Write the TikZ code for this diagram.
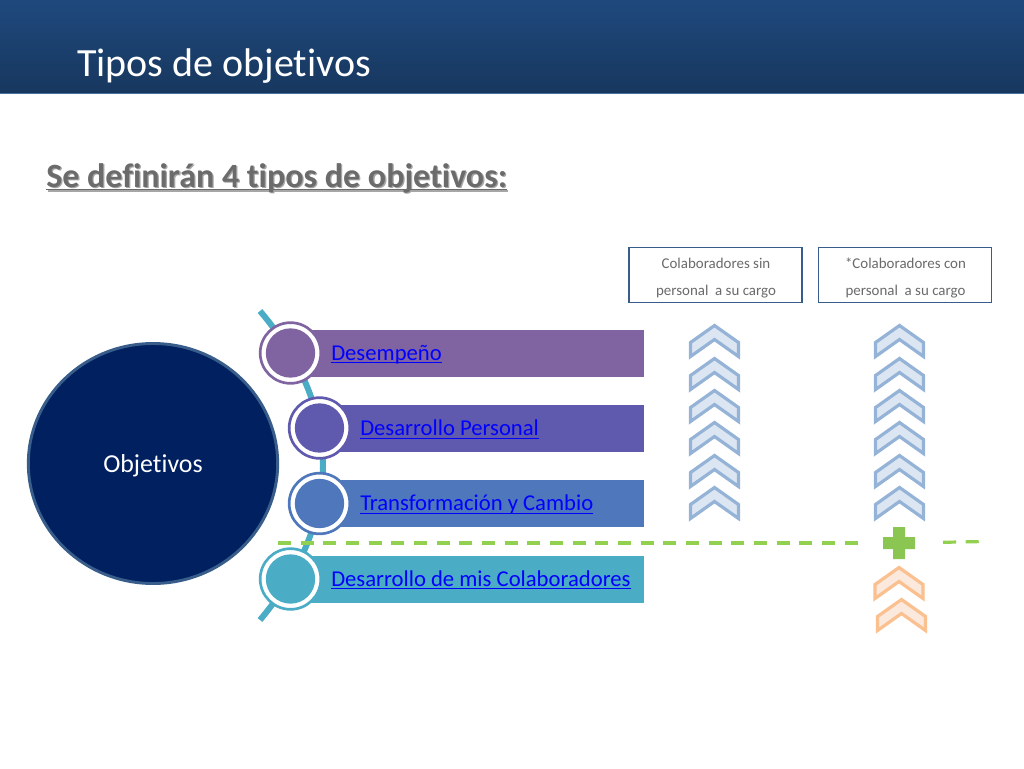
\documentclass[tikz,border=0pt]{standalone}
\usepackage{fontspec}
\setmainfont[Ligatures=CommonOff]{Carlito}
\usetikzlibrary{calc,shapes.geometric}
\definecolor{hdrtop}{HTML}{1F497D}
\definecolor{hdrbot}{HTML}{17375E}
\definecolor{hdrline}{HTML}{4A6F9C}
\definecolor{navy}{HTML}{002060}
\definecolor{navyline}{HTML}{385D8A}
\definecolor{cPurple}{HTML}{8064A2}
\definecolor{cIndigo}{HTML}{5F5AAD}
\definecolor{cBlue}{HTML}{4F78BC}
\definecolor{cTeal}{HTML}{4BACC6}
\definecolor{cGreen}{HTML}{92D050}
\definecolor{cPlus}{HTML}{8CC652}
\definecolor{chevB}{HTML}{95B3D7}
\definecolor{chevBf}{HTML}{DCE6F2}
\definecolor{chevO}{HTML}{FAC090}
\definecolor{chevOf}{HTML}{FBE9DD}
\definecolor{greytxt}{HTML}{6B6B6B}
\definecolor{boxtxt}{HTML}{6A6A6A}
\newsavebox\ulbox
\newcommand\myul[3]{\sbox\ulbox{#3}\rlap{\rule[-#1]{\wd\ulbox}{#2}}\usebox\ulbox}
\tikzset{
  px/.style={x=0.75pt,y=-0.75pt},
  bar/.style={fill=#1,draw=none},
  bubble/.style={circle,fill=white,draw=#1,line width=2pt,minimum size=45.5pt,inner sep=0pt},
  bubcore/.style={circle,fill=#1,draw=none,minimum size=37pt,inner sep=0pt},
  linktxt/.style={anchor=base west,inner sep=0pt,text=blue,font=\fontsize{17}{20}\selectfont},
  headbox/.style={draw=navyline,line width=1.1pt,fill=white,minimum width=129.5pt,minimum height=41.5pt,inner sep=0pt},
  boxtext/.style={anchor=base,inner sep=0pt,text=boxtxt,font=\fontsize{11.2}{13}\selectfont},
  chev/.style={line width=2.4pt,miter limit=10,line join=miter},
  chevblue/.style={chev,draw=chevB,fill=chevBf},
  chevorange/.style={chev,draw=chevO,fill=chevOf},
  gdash/.style={draw=cGreen,line width=2.4pt,dash pattern=on 9.8pt off 7.2pt}
}
\newcommand\chevron[3]{% centre x, tip y, style
  \path[#3] (#1,#2+1.5) -- ++(24,17) -- ++(0,14) -- ++(-24,-17) -- ++(-24,17) -- ++(0,-14) -- cycle;}
\begin{document}
\begin{tikzpicture}[px]
\useasboundingbox (0,0) rectangle (1024,768);
% header
\shade[top color=hdrtop,bottom color=hdrbot] (0,0) rectangle (1024,93);
\fill[hdrline] (0,93) rectangle (1024,94);
\node[anchor=base west,inner sep=0pt,text=white,font=\fontsize{30}{36}\selectfont] (title) at (77,76) {Tipos de objetivos};
% subtitle
\node[anchor=base west,inner sep=0pt,text=black!35,font=\fontsize{25.5}{30}\selectfont\bfseries] (subshadow) at (47.3,188.5) {\myul{2.6pt}{1.3pt}{Se definirán 4 tipos de objetivos:}};
\node[anchor=base west,inner sep=0pt,text=greytxt,font=\fontsize{25.5}{30}\selectfont\bfseries] (subtitle) at (46,187) {\myul{2.6pt}{1.3pt}{Se definirán 4 tipos de objetivos:}};
% arc
\coordinate (arcA) at (260,311);
\coordinate (arcB) at (260,620);
\draw[cTeal,line width=4.5pt] (arcA) .. controls (344,410) and (344,520) .. (arcB);
% bars
\fill[bar=cPurple] (300,329.5) rectangle (643.5,376.5);
\fill[bar=cIndigo] (330,405) rectangle (643.5,452);
\fill[bar=cBlue] (330,480) rectangle (643.5,527);
\fill[bar=cTeal] (300,555.5) rectangle (643.5,602.5);
% bubbles
\node[bubble=cPurple] (b1) at (290.5,353) {};
\node[bubcore=cPurple] (c1) at (b1) {};
\node[bubble=cIndigo] (b2) at (319.5,428) {};
\node[bubcore=cIndigo] (c2) at (b2) {};
\node[bubble=cBlue] (b3) at (319.5,503.5) {};
\node[bubcore=cBlue] (c3) at (b3) {};
\node[bubble=cTeal] (b4) at (290.5,579) {};
\node[bubcore=cTeal] (c4) at (b4) {};
% link labels
\node[linktxt] (l1) at (331,360) {\myul{2.4pt}{0.9pt}{Desempeño}};
\node[linktxt] (l2) at (360,435.5) {\myul{2.4pt}{0.9pt}{Desarrollo Personal}};
\node[linktxt] (l3) at (360,510.5) {\myul{2.4pt}{0.9pt}{Transformación y Cambio}};
\node[linktxt] (l4) at (331,586) {\myul{2.4pt}{0.9pt}{Desarrollo de mis Colaboradores}};
% big circle
\node[ellipse,fill=navy,draw=navyline,line width=2.2pt,minimum width=187pt,minimum height=180pt,inner sep=0pt] (obj) at (153,463.5) {};
\node[anchor=base,inner sep=0pt,text=white,font=\fontsize{19.4}{23}\selectfont] (objt) at (153,472) {Objetivos};
% boxes
\node[headbox] (h1) at (715.5,275) {};
\node[headbox] (h2) at (905,275) {};
\node[boxtext] (h1a) at (716,268.5) {Colaboradores sin};
\node[boxtext] (h1b) at (716,295.5) {personal\ \ a su cargo};
\node[boxtext] (h2a) at (905.5,268.5) {*Colaboradores con};
\node[boxtext] (h2b) at (905.5,295.5) {personal\ \ a su cargo};
% chevrons
\foreach \t in {324,357,389,421,454,486} {\chevron{714.5}{\t}{chevblue}}
\foreach \t in {324,357,389,421,454,486} {\chevron{899.5}{\t}{chevblue}}
\chevron{899}{566}{chevorange}
\chevron{901.5}{598}{chevorange}
% dashed line
\coordinate (d1) at (278,543);
\coordinate (d2) at (860,543);
\coordinate (d3) at (943,542.3);
\coordinate (d4) at (979,541.6);
\draw[gdash] (d1) -- (d2);
\draw[gdash] (d3) -- (d4);
% plus
\fill[cPlus] (893,527) -- (905,527) -- (905,537) -- (915,537) -- (915,549) -- (905,549) -- (905,559) -- (893,559) -- (893,549) -- (883,549) -- (883,537) -- (893,537) -- cycle;
\end{tikzpicture}
\end{document}
